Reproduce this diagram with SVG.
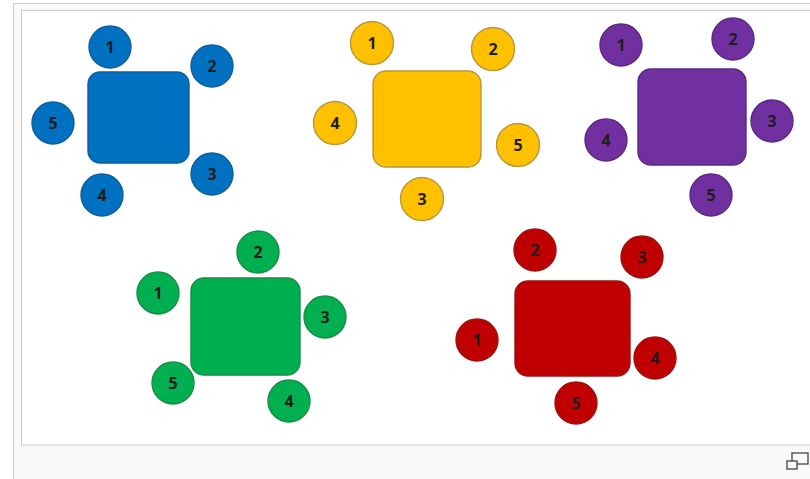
<svg xmlns="http://www.w3.org/2000/svg" width="810" height="479" viewBox="0 0 810 479">
<style>
text{font-family:"Open Sans","Liberation Sans",sans-serif;font-size:16px;font-weight:700;fill:#1e1e1e;text-anchor:middle;dominant-baseline:central}
.blue{fill:#0070C0;stroke:#0d5e9c;stroke-width:1.4}
.yellow{fill:#FFC000;stroke:#b8963a;stroke-width:1.4}
.purple{fill:#7030A0;stroke:#5a2883;stroke-width:1.4}
.green{fill:#00B050;stroke:#168c45;stroke-width:1.4}
.red{fill:#C00000;stroke:#9c1010;stroke-width:1.4}
</style>
<rect x="0" y="0" width="810" height="479" fill="#ffffff"/>
<rect x="13.5" y="3.5" width="800" height="480" fill="#f8f9fa" stroke="#c8ccd1"/>
<rect x="21.5" y="10.5" width="792" height="434.5" fill="#ffffff" stroke="#c8ccd1"/>
<g id="magnify" fill="none" stroke="#444" stroke-width="1.3">
<rect x="792" y="453" width="16" height="11"/>
<rect x="787" y="461" width="10" height="8" fill="#f8f9fa"/>
</g>
<g id="connectors"/>
<g id="table-blue">
<rect class="blue" x="88" y="72" width="101" height="91" rx="12"/>
<g id="blue-1"><circle class="blue" cx="110" cy="47" r="21"/><text x="110" y="47">1</text></g>
<g id="blue-2"><circle class="blue" cx="212" cy="66" r="21"/><text x="212" y="66">2</text></g>
<g id="blue-3"><circle class="blue" cx="212" cy="174" r="21"/><text x="212" y="174">3</text></g>
<g id="blue-4"><circle class="blue" cx="102" cy="195" r="21"/><text x="102" y="195">4</text></g>
<g id="blue-5"><circle class="blue" cx="53" cy="123" r="21"/><text x="53" y="123">5</text></g>
</g>
<g id="table-yellow">
<rect class="yellow" x="373" y="71" width="108" height="96" rx="13"/>
<g id="yellow-1"><circle class="yellow" cx="372" cy="43" r="21.5"/><text x="372" y="43">1</text></g>
<g id="yellow-2"><circle class="yellow" cx="493" cy="49" r="21.5"/><text x="493" y="49">2</text></g>
<g id="yellow-3"><circle class="yellow" cx="422" cy="199" r="21.5"/><text x="422" y="199">3</text></g>
<g id="yellow-4"><circle class="yellow" cx="335" cy="123" r="21.5"/><text x="335" y="123">4</text></g>
<g id="yellow-5"><circle class="yellow" cx="518" cy="145" r="21.5"/><text x="518" y="145">5</text></g>
</g>
<g id="table-purple">
<rect class="purple" x="638" y="69" width="108" height="96" rx="13"/>
<g id="purple-1"><circle class="purple" cx="621" cy="45" r="21"/><text x="621" y="45">1</text></g>
<g id="purple-2"><circle class="purple" cx="733" cy="39" r="21"/><text x="733" y="39">2</text></g>
<g id="purple-3"><circle class="purple" cx="772" cy="121" r="21"/><text x="772" y="121">3</text></g>
<g id="purple-4"><circle class="purple" cx="606" cy="140" r="21"/><text x="606" y="140">4</text></g>
<g id="purple-5"><circle class="purple" cx="711" cy="195" r="21"/><text x="711" y="195">5</text></g>
</g>
<g id="table-green">
<rect class="green" x="191" y="278" width="109" height="97" rx="13"/>
<g id="green-1"><circle class="green" cx="158" cy="293" r="21"/><text x="158" y="293">1</text></g>
<g id="green-2"><circle class="green" cx="258" cy="252" r="21"/><text x="258" y="252">2</text></g>
<g id="green-3"><circle class="green" cx="325" cy="317" r="21"/><text x="325" y="317">3</text></g>
<g id="green-4"><circle class="green" cx="289" cy="401" r="21"/><text x="289" y="401">4</text></g>
<g id="green-5"><circle class="green" cx="173" cy="383" r="21"/><text x="173" y="383">5</text></g>
</g>
<g id="table-red">
<rect class="red" x="515" y="281" width="115" height="95" rx="13"/>
<g id="red-1"><circle class="red" cx="477" cy="340" r="21"/><text x="477" y="340">1</text></g>
<g id="red-2"><circle class="red" cx="535" cy="250" r="21"/><text x="535" y="250">2</text></g>
<g id="red-3"><circle class="red" cx="642" cy="257" r="21"/><text x="642" y="257">3</text></g>
<g id="red-4"><circle class="red" cx="655" cy="358" r="21"/><text x="655" y="358">4</text></g>
<g id="red-5"><circle class="red" cx="576" cy="403" r="21"/><text x="576" y="403">5</text></g>
</g>
</svg>
